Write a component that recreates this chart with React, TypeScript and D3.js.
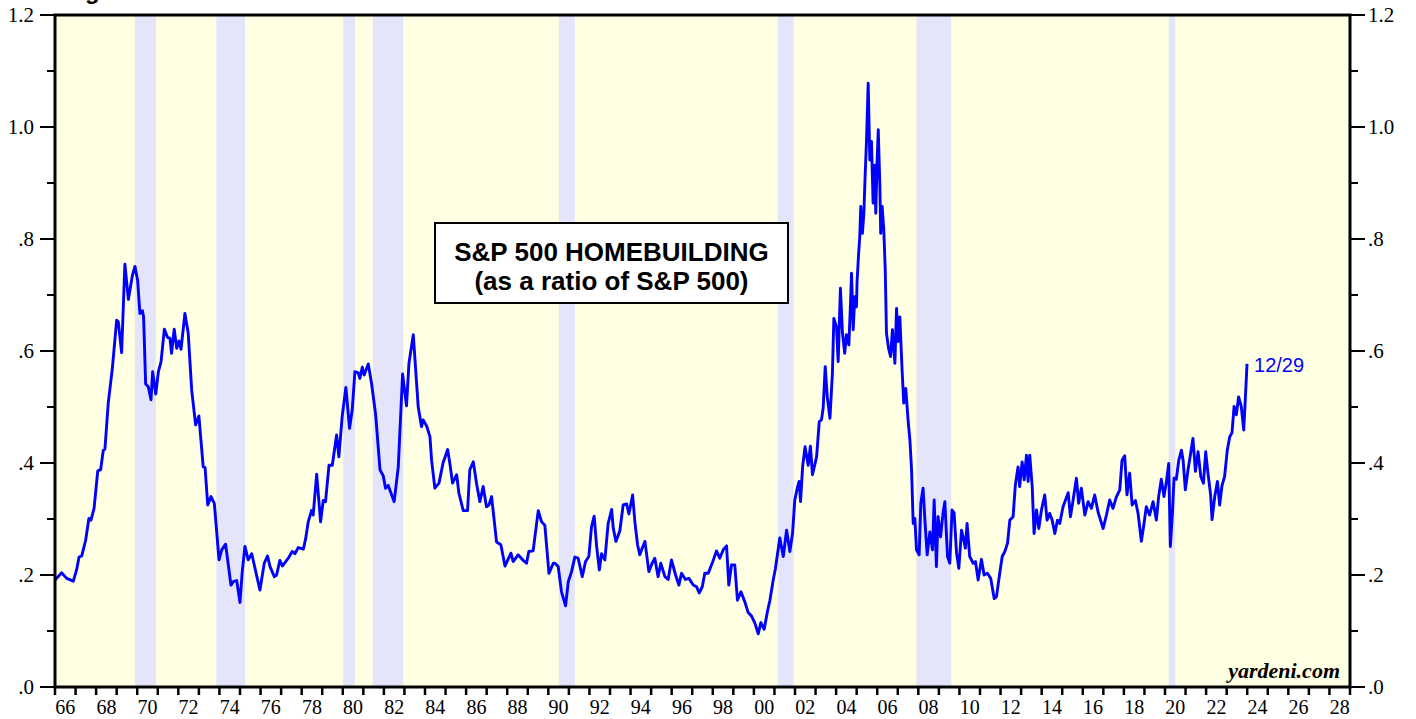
import React from "react";
import * as d3 from "d3";

// decimal-year dates and S&P 500 Homebuilding / S&P 500 ratio
const dates: number[] = [
  1966.00, 1966.32, 1966.57, 1966.89, 1967.05, 1967.17, 1967.30, 1967.49, 1967.65, 1967.75, 1967.90,
  1968.08, 1968.22, 1968.35, 1968.43, 1968.59, 1968.79, 1969.00, 1969.08, 1969.24, 1969.40, 1969.57,
  1969.76, 1969.89, 1970.02, 1970.13, 1970.25, 1970.31, 1970.41, 1970.54, 1970.67, 1970.75, 1970.90,
  1971.03, 1971.16, 1971.32, 1971.48, 1971.59, 1971.67, 1971.80, 1971.92, 1972.03, 1972.13, 1972.32,
  1972.48, 1972.65, 1972.84, 1973.00, 1973.21, 1973.30, 1973.43, 1973.59, 1973.75, 1973.98, 1974.11,
  1974.30, 1974.56, 1974.67, 1974.84, 1975.00, 1975.11, 1975.24, 1975.40, 1975.57,
  1975.73, 1975.97, 1976.18, 1976.34, 1976.46, 1976.67, 1976.78, 1976.94, 1977.06, 1977.35, 1977.54,
  1977.67, 1977.83, 1978.08, 1978.19, 1978.32, 1978.48, 1978.56, 1978.73, 1978.92, 1979.05, 1979.16,
  1979.33, 1979.49, 1979.70, 1979.81, 1979.97, 1980.15, 1980.33, 1980.46, 1980.59, 1980.75, 1980.83,
  1980.95, 1981.04, 1981.24, 1981.40, 1981.60, 1981.81, 1981.97, 1982.08, 1982.21, 1982.34, 1982.50,
  1982.70, 1982.91, 1983.10, 1983.22, 1983.43, 1983.67, 1983.83, 1983.91, 1984.08, 1984.24, 1984.32,
  1984.48, 1984.68, 1984.89, 1984.97, 1985.10, 1985.21, 1985.34, 1985.54, 1985.65, 1985.86, 1986.07,
  1986.18, 1986.35, 1986.51, 1986.67, 1986.83, 1986.99, 1987.11, 1987.24, 1987.48, 1987.69, 1987.89,
  1988.18, 1988.29, 1988.53, 1988.78, 1988.94, 1989.05, 1989.26, 1989.51, 1989.67, 1989.83, 1990.03,
  1990.24,
  1990.32, 1990.48, 1990.64, 1990.84, 1990.97, 1991.13, 1991.29, 1991.45, 1991.65, 1991.81, 1991.97,
  1992.10, 1992.23, 1992.35, 1992.48, 1992.59, 1992.75, 1992.91, 1993.08, 1993.16, 1993.29, 1993.48,
  1993.64, 1993.81, 1993.92, 1994.10, 1994.21, 1994.34, 1994.45, 1994.57, 1994.70, 1994.89, 1995.05,
  1995.18, 1995.34, 1995.47, 1995.67, 1995.83, 1995.99, 1996.19, 1996.35, 1996.48, 1996.67, 1996.84,
  1997.05, 1997.21, 1997.34, 1997.49, 1997.61, 1997.78, 1998.02, 1998.18, 1998.34, 1998.51, 1998.67,
  1998.78, 1998.91, 1999.07, 1999.20, 1999.37, 1999.56, 1999.72, 1999.88, 2000.05, 2000.21, 2000.34,
  2000.50, 2000.66, 2000.78, 2000.94, 2001.05,
  2001.26, 2001.43, 2001.59, 2001.75, 2001.88, 2001.99, 2002.11, 2002.20, 2002.27, 2002.37, 2002.49,
  2002.64, 2002.75, 2002.85, 2003.05, 2003.18, 2003.29, 2003.37, 2003.47, 2003.57, 2003.70, 2003.82,
  2003.89, 2004.02, 2004.10, 2004.21, 2004.31, 2004.42, 2004.50, 2004.62, 2004.70, 2004.75, 2004.83,
  2004.91, 2004.99, 2005.02, 2005.09, 2005.15, 2005.20, 2005.28, 2005.35, 2005.41, 2005.48, 2005.56,
  2005.64, 2005.72, 2005.80, 2005.88, 2005.93, 2005.99, 2006.05, 2006.13, 2006.17, 2006.24, 2006.32,
  2006.39, 2006.45, 2006.55, 2006.65, 2006.74, 2006.86, 2006.94, 2007.02, 2007.10, 2007.21, 2007.29,
  2007.39, 2007.50, 2007.59, 2007.67, 2007.75, 2007.83, 2007.91, 2008.04, 2008.12, 2008.23, 2008.32,
  2008.43, 2008.56, 2008.69, 2008.77, 2008.88, 2008.96, 2009.08, 2009.21,
  2009.29, 2009.42, 2009.53, 2009.64, 2009.74, 2009.86, 2009.97, 2010.10, 2010.18, 2010.29, 2010.37,
  2010.50, 2010.67, 2010.78, 2010.91, 2011.07, 2011.20, 2011.36, 2011.52, 2011.69, 2011.80, 2011.96,
  2012.08, 2012.21, 2012.34, 2012.45, 2012.61, 2012.72, 2012.85, 2012.93, 2013.05, 2013.15, 2013.26,
  2013.34, 2013.42, 2013.54, 2013.63, 2013.75, 2013.86, 2013.99, 2014.15, 2014.26, 2014.39, 2014.51,
  2014.64, 2014.77, 2014.88, 2015.04, 2015.16, 2015.29, 2015.40, 2015.53, 2015.69, 2015.80, 2015.93,
  2016.10, 2016.26, 2016.42,
  2016.58, 2016.74, 2016.99, 2017.15, 2017.31, 2017.47, 2017.63, 2017.80, 2017.91, 2018.04, 2018.15,
  2018.28, 2018.40, 2018.56, 2018.69, 2018.85, 2018.98, 2019.09, 2019.25, 2019.42, 2019.58, 2019.69,
  2019.82, 2019.95, 2020.07, 2020.18, 2020.26, 2020.36, 2020.44, 2020.55, 2020.67, 2020.80, 2020.88,
  2020.99, 2021.12, 2021.25, 2021.36, 2021.48, 2021.61, 2021.74, 2021.87, 2021.98, 2022.09, 2022.22,
  2022.29, 2022.42, 2022.55, 2022.66, 2022.77, 2022.90, 2023.03, 2023.15, 2023.26, 2023.36, 2023.47,
  2023.58, 2023.71, 2023.83, 2023.91, 2023.99,
];

const ratio: number[] = [
  0.191, 0.204, 0.194, 0.189, 0.209, 0.232, 0.234, 0.262, 0.301, 0.298, 0.319,
  0.386, 0.388, 0.423, 0.425, 0.507, 0.569, 0.655, 0.652, 0.597, 0.755, 0.692,
  0.734, 0.751, 0.726, 0.667, 0.672, 0.661, 0.541, 0.536, 0.513, 0.563, 0.523,
  0.563, 0.581, 0.639, 0.624, 0.623, 0.596, 0.639, 0.605, 0.618, 0.603, 0.667,
  0.632, 0.530, 0.468, 0.484, 0.393, 0.392, 0.325, 0.340, 0.328, 0.227, 0.245,
  0.255, 0.182, 0.188, 0.190, 0.151, 0.206, 0.251, 0.227, 0.238,
  0.212, 0.173, 0.221, 0.234, 0.215, 0.197, 0.200, 0.226, 0.216, 0.230, 0.242,
  0.238, 0.249, 0.246, 0.264, 0.295, 0.315, 0.307, 0.380, 0.295, 0.333, 0.331,
  0.396, 0.396, 0.450, 0.411, 0.483, 0.535, 0.462, 0.495, 0.563, 0.561, 0.551,
  0.571, 0.557, 0.577, 0.542, 0.486, 0.388, 0.377, 0.355, 0.360, 0.347, 0.331,
  0.393, 0.559, 0.502, 0.578, 0.629, 0.500, 0.465, 0.477, 0.466, 0.447, 0.405,
  0.355, 0.364, 0.402, 0.410, 0.424, 0.399, 0.364, 0.379, 0.346, 0.315, 0.315,
  0.388, 0.402, 0.363, 0.331, 0.358, 0.322, 0.325, 0.340, 0.259, 0.254, 0.216,
  0.239, 0.224, 0.236, 0.226, 0.221, 0.242, 0.243, 0.315, 0.295, 0.289, 0.203,
  0.221,
  0.221, 0.215, 0.170, 0.145, 0.188, 0.206, 0.232, 0.230, 0.197, 0.224, 0.233,
  0.286, 0.305, 0.251, 0.209, 0.238, 0.227, 0.292, 0.317, 0.283, 0.260, 0.279,
  0.325, 0.327, 0.309, 0.343, 0.295, 0.254, 0.236, 0.248, 0.260, 0.206, 0.221,
  0.230, 0.197, 0.221, 0.197, 0.192, 0.227, 0.200, 0.182, 0.203, 0.192, 0.194,
  0.182, 0.179, 0.168, 0.179, 0.203, 0.203, 0.226, 0.243, 0.230, 0.245, 0.252,
  0.182, 0.218, 0.218, 0.155, 0.170, 0.152, 0.133, 0.127, 0.114, 0.095, 0.115,
  0.103, 0.135, 0.155, 0.191, 0.212,
  0.266, 0.233, 0.280, 0.242, 0.274, 0.334, 0.355, 0.367, 0.331, 0.393, 0.429,
  0.396, 0.430, 0.379, 0.411, 0.474, 0.477, 0.498, 0.572, 0.518, 0.480, 0.560,
  0.658, 0.643, 0.581, 0.712, 0.632, 0.596, 0.629, 0.611, 0.685, 0.739, 0.638,
  0.697, 0.679, 0.724, 0.771, 0.804, 0.858, 0.810, 0.846, 0.911, 0.977, 1.078,
  0.941, 0.974, 0.864, 0.932, 0.846, 0.935, 0.995, 0.893, 0.810, 0.858, 0.816,
  0.745, 0.632, 0.605, 0.590, 0.638, 0.578, 0.676, 0.617, 0.661, 0.566, 0.507,
  0.533, 0.477, 0.441, 0.388, 0.292, 0.301, 0.245, 0.236, 0.328, 0.355, 0.298,
  0.236, 0.277, 0.245, 0.334, 0.215, 0.304, 0.268, 0.313,
  0.331, 0.233, 0.221, 0.316, 0.311, 0.239, 0.212, 0.280, 0.268, 0.248, 0.292,
  0.233, 0.221, 0.224, 0.191, 0.228, 0.200, 0.203, 0.194, 0.158, 0.161, 0.203,
  0.233, 0.242, 0.257, 0.298, 0.304, 0.361, 0.393, 0.358, 0.402, 0.370, 0.414,
  0.367, 0.414, 0.358, 0.274, 0.316, 0.283, 0.316, 0.343, 0.298, 0.310, 0.298,
  0.274, 0.298, 0.292, 0.322, 0.334, 0.347, 0.304, 0.334, 0.373, 0.328, 0.355,
  0.307, 0.331, 0.319,
  0.343, 0.313, 0.283, 0.307, 0.334, 0.319, 0.339, 0.352, 0.405, 0.413, 0.343,
  0.382, 0.325, 0.333, 0.310, 0.260, 0.292, 0.322, 0.307, 0.331, 0.298, 0.340,
  0.371, 0.340, 0.367, 0.399, 0.251, 0.310, 0.373, 0.371, 0.405, 0.423, 0.405,
  0.352, 0.388, 0.418, 0.444, 0.385, 0.420, 0.376, 0.364, 0.420, 0.382, 0.343,
  0.299, 0.340, 0.367, 0.325, 0.359, 0.376, 0.423, 0.447, 0.454, 0.501, 0.486,
  0.518, 0.501, 0.459, 0.516, 0.577,
];

// recession periods (decimal years)
const recessionStart: number[] = [1969.89, 1973.85, 1980.02, 1981.46, 1990.51, 2001.15, 2007.91, 2020.18];
const recessionEnd: number[] = [1970.91, 1975.24, 1980.59, 1982.94, 1991.29, 2001.93, 2009.6, 2020.5];

const yMajorTicks: number[] = [0, 0.2, 0.4, 0.6, 0.8, 1.0, 1.2];
const yMajorLabels: string[] = [".0", ".2", ".4", ".6", ".8", "1.0", "1.2"];
const yMinorTicks: number[] = [0.1, 0.3, 0.5, 0.7, 0.9, 1.1];
const xLabelYears: number[] = d3.range(1966, 2029, 2);
const xLabels: string[] = xLabelYears.map((y) => String(y % 100).padStart(2, "0"));
const lastLabel = "12/29";

const W = 1416;
const H = 719;
const L = 55;
const R = 1350;
const T = 15;
const B = 687;

export default function App() {
  const x = d3.scaleLinear().domain([1966, 2029]).range([L, R]);
  const y = d3.scaleLinear().domain([0, 1.2]).range([B, T]);
  const pts: [number, number][] = dates.map((d, i) => [d, ratio[i]]);
  const line = d3
    .line<[number, number]>()
    .x((d) => x(d[0]))
    .y((d) => y(d[1]));
  const yearTicks = d3.range(1966, 2030);
  const last = pts[pts.length - 1];
  const serif = "'Liberation Serif', 'Times New Roman', serif";
  const sans = "'Liberation Sans', Arial, sans-serif";

  return (
    <div style={{ position: "fixed", left: 0, top: 0, width: W, height: H, background: "#fff" }}>
      <svg width={W} height={H} viewBox={`0 0 ${W} ${H}`} style={{ display: "block" }}>
        <defs>
          <clipPath id="plotClip">
            <rect x={L} y={T} width={R - L} height={B - T} />
          </clipPath>
        </defs>
        <text x={85} y={-1} fontFamily={sans} fontWeight="bold" fontSize={24} fill="#000">
          g
        </text>
        <rect x={L} y={T} width={R - L} height={B - T} fill="#FFFFE3" />
        {recessionStart.map((s, i) => (
          <rect
            key={"rec" + i}
            x={x(s)}
            y={T}
            width={x(recessionEnd[i]) - x(s)}
            height={B - T}
            fill="#E4E4FA"
          />
        ))}
        <path
          d={line(pts) || ""}
          fill="none"
          stroke="#0000FF"
          strokeWidth={2.9}
          strokeLinejoin="round"
          clipPath="url(#plotClip)"
        />
        <text x={x(last[0]) + 7} y={y(last[1]) + 8} fontFamily={sans} fontSize={20} fill="#0000FF">
          {lastLabel}
        </text>

        {/* annotation box */}
        <rect x={435} y={223} width={353} height={80} fill="#fff" stroke="#000" strokeWidth={2} />
        <text x={611.5} y={261} textAnchor="middle" fontFamily={sans} fontWeight="bold" fontSize={26} fill="#000">
          S&amp;P 500 HOMEBUILDING
        </text>
        <text x={611.5} y={290} textAnchor="middle" fontFamily={sans} fontWeight="bold" fontSize={26} fill="#000">
          (as a ratio of S&amp;P 500)
        </text>

        <text
          x={1340}
          y={678}
          textAnchor="end"
          fontFamily={serif}
          fontWeight="bold"
          fontStyle="italic"
          fontSize={22}
          fill="#000"
        >
          yardeni.com
        </text>

        {/* frame */}
        <rect x={L} y={T} width={R - L} height={B - T} fill="none" stroke="#000" strokeWidth={3} />

        {/* left & right y ticks */}
        {yMajorTicks.map((v, i) => (
          <g key={"ym" + i}>
            <line x1={L - 15} x2={L} y1={y(v)} y2={y(v)} stroke="#000" strokeWidth={2} />
            <line x1={R} x2={R + 15} y1={y(v)} y2={y(v)} stroke="#000" strokeWidth={2} />
            <text x={34} y={y(v) + 7} textAnchor="end" fontFamily={serif} fontSize={21} fill="#000">
              {yMajorLabels[i]}
            </text>
            <text x={1368} y={y(v) + 7} textAnchor="start" fontFamily={serif} fontSize={21} fill="#000">
              {yMajorLabels[i]}
            </text>
          </g>
        ))}
        {yMinorTicks.map((v, i) => (
          <g key={"yn" + i}>
            <line x1={L - 8} x2={L} y1={y(v)} y2={y(v)} stroke="#000" strokeWidth={2} />
            <line x1={R} x2={R + 8} y1={y(v)} y2={y(v)} stroke="#000" strokeWidth={2} />
          </g>
        ))}

        {/* x ticks */}
        {yearTicks.map((yr) => (
          <line key={"xt" + yr} x1={x(yr)} x2={x(yr)} y1={B} y2={B + 8} stroke="#000" strokeWidth={2.5} />
        ))}
        {xLabelYears.map((yr, i) => (
          <text
            key={"xl" + yr}
            x={x(yr + 0.5)}
            y={714}
            textAnchor="middle"
            fontFamily={serif}
            fontSize={20}
            fill="#000"
          >
            {xLabels[i]}
          </text>
        ))}
      </svg>
    </div>
  );
}
